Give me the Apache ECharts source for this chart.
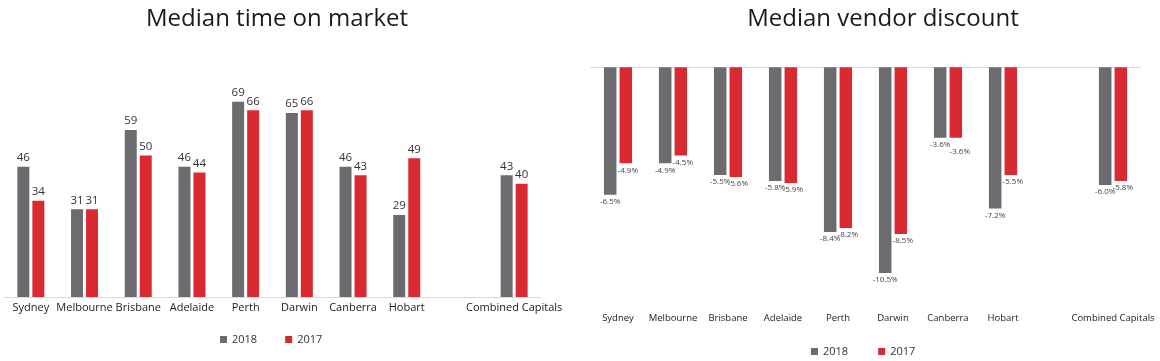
<!DOCTYPE html>
<html>
<head>
<meta charset="utf-8">
<script src="https://cdn.jsdelivr.net/npm/echarts@6/dist/echarts.min.js"></script>
<style>
html,body{margin:0;padding:0;background:#fff;}
#chart{width:1160px;height:361px;}
</style>
</head>
<body>
<div id="chart"></div>
<script>
var categories = ['Sydney','Melbourne','Brisbane','Adelaide','Perth','Darwin','Canberra','Hobart','','Combined Capitals'];
var timeOnMarket2018 = [46,31,59,46,69,65,46,29,null,43];
var timeOnMarket2017 = [34,31,50,44,66,66,43,49,null,40];
var vendorDiscount2018 = [-6.5,-4.9,-5.5,-5.8,-8.4,-10.5,-3.6,-7.2,null,-6.0];
var vendorDiscount2017 = [-4.9,-4.5,-5.6,-5.9,-8.2,-8.5,-3.6,-5.5,null,-5.8];
var seriesNames = ['2018','2017'];
var titles = ['Median time on market','Median vendor discount'];

var GRAY = '#6b6b70';
var RED = '#da2a31';
var FONT = '"Open Sans", "DejaVu Sans", sans-serif';

function pct(p){ return p.value.toFixed(1) + '%'; }
// the overlapping Canberra labels are nudged apart in the reference
var discount2017Items = vendorDiscount2017.map(function(v, i){
  return categories[i] === 'Canberra' ? {value:v, label:{offset:[4,7]}} : v;
});

var chart = echarts.init(document.getElementById('chart'), null, {renderer:'canvas'});
chart.setOption({
  animation:false,
  backgroundColor:'#fff',
  textStyle:{fontFamily:FONT},
  title:[
    {text:titles[0], left:277, top:7, textAlign:'center', padding:0,
     textStyle:{fontFamily:FONT, fontSize:24, fontWeight:'normal', color:'#1a1a1a'}},
    {text:titles[1], left:883, top:7, textAlign:'center', padding:0,
     textStyle:{fontFamily:FONT, fontSize:24, fontWeight:'normal', color:'#1a1a1a'}}
  ],
  legend:[
    {data:seriesNames, left:220, top:334, padding:0, itemWidth:7, itemHeight:7, itemGap:28,
     icon:'rect', textStyle:{fontFamily:FONT, fontSize:11, color:'#333'}},
    {data:seriesNames, left:811, top:346, padding:0, itemWidth:7, itemHeight:7, itemGap:30,
     icon:'rect', textStyle:{fontFamily:FONT, fontSize:11, color:'#333'}}
  ],
  grid:[
    {left:4, width:537, top:70.6, height:226.4},
    {left:590.5, width:550, top:67.3, height:235.2}
  ],
  xAxis:[
    {gridIndex:0, type:'category', data:categories,
     axisLine:{show:true, lineStyle:{color:'#d9d9d9', width:1}},
     axisTick:{show:false},
     axisLabel:{interval:0, margin:5, fontFamily:FONT, fontSize:11, color:'#222'}},
    {gridIndex:1, type:'category', data:categories, position:'bottom',
     axisLine:{show:false}, axisTick:{show:false},
     axisLabel:{interval:0, margin:11, fontFamily:FONT, fontSize:9.5, color:'#222'}},
    {gridIndex:1, type:'category', data:categories, position:'top',
     axisLine:{show:true, onZero:false, lineStyle:{color:'#d9d9d9', width:1}},
     axisTick:{show:false}, axisLabel:{show:false}}
  ],
  yAxis:[
    {gridIndex:0, type:'value', min:0, max:80, show:false},
    {gridIndex:1, type:'value', min:-12, max:0, show:false}
  ],
  series:[
    {name:seriesNames[0], type:'bar', xAxisIndex:0, yAxisIndex:0, data:timeOnMarket2018,
     barWidth:12, barGap:'25%', itemStyle:{color:GRAY},
     label:{show:true, position:'top', distance:3, fontFamily:FONT, fontSize:11.5, color:'#333'}},
    {name:seriesNames[1], type:'bar', xAxisIndex:0, yAxisIndex:0, data:timeOnMarket2017,
     barWidth:12, barGap:'25%', itemStyle:{color:RED},
     label:{show:true, position:'top', distance:3, fontFamily:FONT, fontSize:11.5, color:'#333'}},
    {name:seriesNames[0], type:'bar', xAxisIndex:1, yAxisIndex:1, data:vendorDiscount2018,
     barWidth:12.5, barGap:'25%', itemStyle:{color:GRAY},
     label:{show:true, position:'bottom', distance:3, fontFamily:FONT, fontSize:8, color:'#444',
       formatter:pct}},
    {name:seriesNames[1], type:'bar', xAxisIndex:1, yAxisIndex:1, data:discount2017Items,
     barWidth:12.5, barGap:'25%', itemStyle:{color:RED},
     label:{show:true, position:'bottom', distance:3, offset:[2,0], fontFamily:FONT, fontSize:8, color:'#444',
       formatter:pct}}
  ]
});
</script>
</body>
</html>
